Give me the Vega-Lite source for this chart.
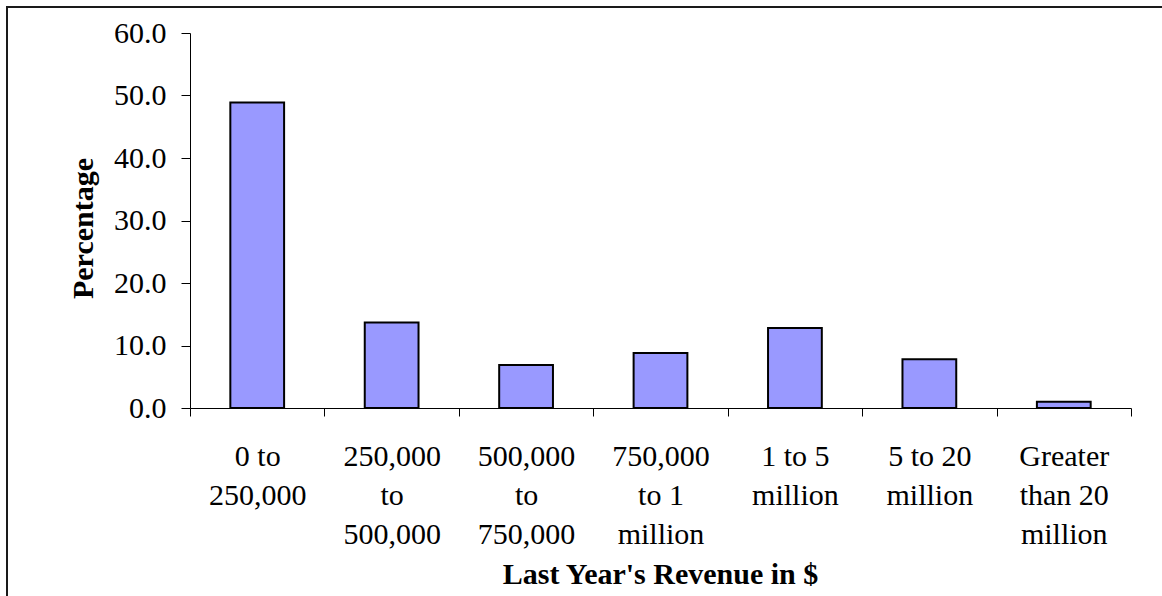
{
  "$schema": "https://vega.github.io/schema/vega-lite/v6.json",
  "autosize": "none",
  "padding": {"left": 7, "top": 7, "right": 0, "bottom": 0},
  "width": 1200,
  "height": 640,
  "background": "white",
  "config": {
    "view": {"stroke": "#1a1a1a", "strokeWidth": 2},
    "font": "Liberation Serif"
  },
  "data": {
    "values": [
      {"range": "0 to\n250,000", "pct": 48.9},
      {"range": "250,000\nto\n500,000", "pct": 13.7},
      {"range": "500,000\nto\n750,000", "pct": 6.9},
      {"range": "750,000\nto 1\nmillion", "pct": 8.8},
      {"range": "1 to 5\nmillion", "pct": 12.8},
      {"range": "5 to 20\nmillion", "pct": 7.8},
      {"range": "Greater\nthan 20\nmillion", "pct": 1.0}
    ]
  },
  "mark": {
    "type": "bar",
    "fill": "#9999FF",
    "stroke": "black",
    "strokeWidth": 2,
    "width": {"band": 0.4}
  },
  "encoding": {
    "x": {
      "field": "range",
      "type": "nominal",
      "sort": null,
      "scale": {"range": [183, 1124], "paddingInner": 0, "paddingOuter": 0},
      "axis": {
        "orient": "bottom",
        "offset": -239,
        "grid": false,
        "domainColor": "black",
        "domainWidth": 1,
        "tickColor": "black",
        "tickSize": 8,
        "tickBand": "extent",
        "labelAngle": 0,
        "labelFont": "Liberation Serif",
        "labelFontSize": 30,
        "labelColor": "black",
        "labelPadding": 25,
        "labelLineHeight": 39,
        "labelLimit": 0,
        "labelOverlap": false,
        "labelExpr": "isString(datum.value) ? split(datum.value, '\\n') : ''",
        "title": "Last Year's Revenue in $",
        "titleFont": "Liberation Serif",
        "titleFontSize": 30,
        "titleFontWeight": "bold",
        "titleColor": "black",
        "titleX": 653,
        "titleY": 175,
        "titleBaseline": "alphabetic"
      }
    },
    "y": {
      "field": "pct",
      "type": "quantitative",
      "scale": {"domain": [0, 60], "range": [401, 26], "nice": false, "zero": true},
      "axis": {
        "orient": "left",
        "offset": -183,
        "grid": false,
        "values": [0, 10, 20, 30, 40, 50, 60],
        "format": ".1f",
        "domainColor": "black",
        "domainWidth": 1,
        "tickColor": "black",
        "tickSize": 9,
        "labelFont": "Liberation Serif",
        "labelFontSize": 30,
        "labelColor": "black",
        "labelPadding": 15,
        "title": "Percentage",
        "titleFont": "Liberation Serif",
        "titleFontSize": 30,
        "titleFontWeight": "bold",
        "titleColor": "black",
        "titleAngle": -90,
        "titleX": -98,
        "titleY": 221,
        "titleBaseline": "alphabetic"
      }
    }
  }
}
